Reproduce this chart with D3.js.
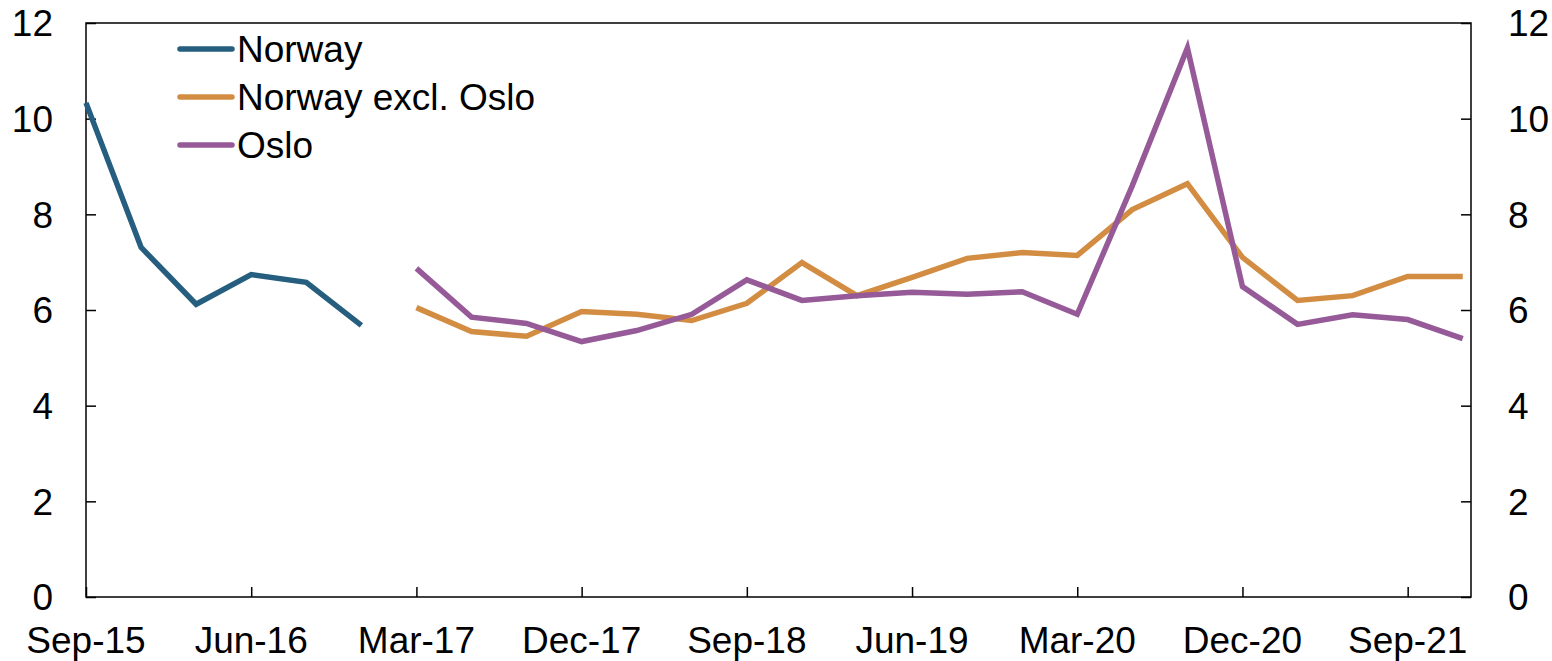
<!DOCTYPE html>
<html>
<head>
<meta charset="utf-8">
<script src="https://cdn.jsdelivr.net/npm/d3@7"></script>
<style>
  html, body { margin: 0; padding: 0; background: #fff; }
  svg { display: block; font-family: "Liberation Sans", Arial, sans-serif; }
</style>
</head>
<body>
<svg id="chart" width="1552" height="661"></svg>
<script>
const quarters = ["Sep-15","Dec-15","Mar-16","Jun-16","Sep-16","Dec-16",
  "Mar-17","Jun-17","Sep-17","Dec-17","Mar-18","Jun-18","Sep-18","Dec-18",
  "Mar-19","Jun-19","Sep-19","Dec-19","Mar-20","Jun-20","Sep-20","Dec-20",
  "Mar-21","Jun-21","Sep-21","Dec-21"];
const norway = [10.33, 7.31, 6.12, 6.74, 6.58, 5.68,
  null, null, null, null, null, null, null, null, null, null, null, null, null, null, null, null, null, null, null, null];
const norwayExclOslo = [null, null, null, null, null, null,
  6.05, 5.55, 5.45, 5.97, 5.91, 5.78, 6.14, 6.99, 6.30, 6.68, 7.08, 7.20, 7.14, 8.10, 8.64, 7.10, 6.20, 6.30, 6.70, 6.70];
const oslo = [null, null, null, null, null, null,
  6.87, 5.85, 5.72, 5.34, 5.57, 5.91, 6.63, 6.20, 6.30, 6.37, 6.33, 6.38, 5.91, 8.60, 11.48, 6.49, 5.70, 5.90, 5.80, 5.40];
const yTicks = [0, 2, 4, 6, 8, 10, 12];
const xTickLabels = ["Sep-15","Jun-16","Mar-17","Dec-17","Sep-18","Jun-19","Mar-20","Dec-20","Sep-21"];
const seriesNames = ["Norway", "Norway excl. Oslo", "Oslo"];
const seriesColors = ["#255e7e", "#d38d43", "#955a97"];

(function () {
const svg = d3.select("#chart");
const pL = 86, pR = 1471, pT = 23, pB = 597;
const fontSize = 37;

const x = d3.scaleLinear().domain([0, 25.15]).range([pL, pR]);
const y = d3.scaleLinear().domain([0, 12]).range([pB, pT]);

const yAxisL = svg.append("g").attr("transform", `translate(${pL},0)`)
  .call(d3.axisRight(y).tickValues(yTicks).tickSize(10).tickFormat(""));
const yAxisR = svg.append("g").attr("transform", `translate(${pR},0)`)
  .call(d3.axisLeft(y).tickValues(yTicks).tickSize(10).tickFormat(""));
const xIdx = xTickLabels.map(l => quarters.indexOf(l));
const xAxis = svg.append("g").attr("transform", `translate(0,${pB})`)
  .call(d3.axisTop(x).tickValues(xIdx).tickSize(10).tickFormat(""));
[yAxisL, yAxisR, xAxis].forEach(g => {
  g.select(".domain").remove();
  g.selectAll("line").attr("stroke", "#000").attr("stroke-width", 1.5);
});
// frame
svg.append("rect").attr("x", pL).attr("y", pT).attr("width", pR - pL).attr("height", pB - pT)
  .attr("fill", "none").attr("stroke", "#000").attr("stroke-width", 1.5);

// tick labels
svg.append("g").selectAll("text").data(yTicks).join("text")
  .attr("x", pL - 33).attr("y", d => y(d)).attr("dy", "0.36em")
  .attr("text-anchor", "end").attr("font-size", fontSize).attr("fill", "#000")
  .text(d => d);
svg.append("g").selectAll("text").data(yTicks).join("text")
  .attr("x", pR + 37).attr("y", d => y(d)).attr("dy", "0.36em")
  .attr("text-anchor", "start").attr("font-size", fontSize).attr("fill", "#000")
  .text(d => d);
svg.append("g").selectAll("text").data(xTickLabels).join("text")
  .attr("x", d => x(quarters.indexOf(d))).attr("y", pB + 56)
  .attr("text-anchor", "middle").attr("font-size", fontSize).attr("fill", "#000")
  .text(d => d);

// lines
const allSeries = [norway, norwayExclOslo, oslo];
const line = d3.line()
  .defined(d => d != null)
  .x((d, i) => x(i))
  .y(d => y(d));
allSeries.forEach((s, k) => {
  svg.append("path").datum(s)
    .attr("d", line)
    .attr("fill", "none")
    .attr("stroke", seriesColors[k])
    .attr("stroke-width", 5.5)
    .attr("stroke-linejoin", "miter")
    .attr("stroke-linecap", "butt");
});

// legend
const legend = svg.append("g");
seriesNames.forEach((n, k) => {
  const cy = 49 + k * 48;
  legend.append("line").attr("x1", 180).attr("x2", 232).attr("y1", cy).attr("y2", cy)
    .attr("stroke", seriesColors[k]).attr("stroke-width", 5.5).attr("stroke-linecap", "round");
  legend.append("text").attr("x", 237).attr("y", cy).attr("dy", "0.36em")
    .attr("font-size", fontSize).attr("fill", "#000").text(n);
});
})();
</script>
</body>
</html>
